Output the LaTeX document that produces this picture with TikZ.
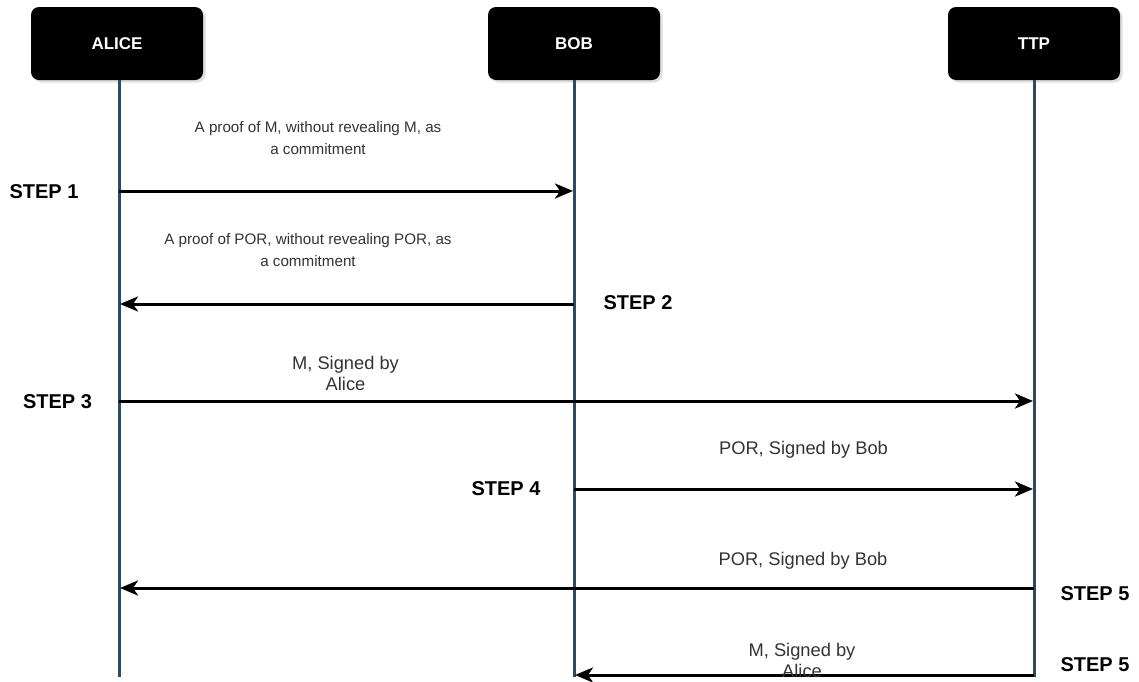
\documentclass[tikz,border=0pt]{standalone}
\usepackage{fontspec}
\setmainfont{Liberation Sans}
\usetikzlibrary{arrows.meta,shadows}
\definecolor{lifeline}{HTML}{2B4A63}
\definecolor{msgtext}{HTML}{333333}
\begin{document}
\begin{tikzpicture}[x=1pt,y=-1pt,
  actor/.style={fill=black,rounded corners=8pt,minimum width=172pt,minimum height=73pt,
    text=white,font=\fontsize{17}{20}\selectfont\bfseries,
    drop shadow={shadow xshift=2.5pt,shadow yshift=-2.5pt,opacity=0.25}},
  life/.style={draw=lifeline,line width=3pt},
  msg/.style={draw=black,line width=3pt,
    -{Stealth[length=18pt,width=15pt,inset=5pt]}},
  msglabel/.style={text=msgtext,align=center,inner sep=0pt},
  small/.style={msglabel,font=\fontsize{15.2}{22}\selectfont},
  large/.style={msglabel,font=\fontsize{18.3}{21}\selectfont},
  steplabel/.style={font=\fontsize{20}{24}\selectfont\bfseries,inner sep=0pt}]
\useasboundingbox (0,0) rectangle (1139,681);
% participants
\node[actor] (alice) at (117,43.5) {ALICE};
\node[actor] (bob) at (574,43.5) {BOB};
\node[actor] (ttp) at (1034,43.5) {TTP};
% lifelines
\coordinate (astart) at (119,80);
\coordinate (aend) at (119,677);
\coordinate (bend) at (574,677);
\coordinate (tend) at (1034,677);
\draw[life] (astart) -- (aend);
\draw[life] (bob.south) -- (bend);
\draw[life] (ttp.south) -- (tend);
% message end points on the lifelines
\coordinate (a1) at (119,191); \coordinate (b1) at (573,191);
\coordinate (b2) at (574,304); \coordinate (a2) at (120,304);
\coordinate (a3) at (119,401); \coordinate (t3) at (1033,401);
\coordinate (b4) at (574,489); \coordinate (t4) at (1033,489);
\coordinate (t5) at (1034,588); \coordinate (a5) at (120,588);
\coordinate (t6) at (1034,675); \coordinate (b6) at (575,675);
% messages
\draw[msg] (a1) -- (b1);
\draw[msg] (b2) -- (a2);
\draw[msg] (a3) -- (t3);
\draw[msg] (b4) -- (t4);
\draw[msg] (t5) -- (a5);
\draw[msg] (t6) -- (b6);
% message labels
\node[small] (m1) at (318,138) {A proof of M, without revealing M, as\\a commitment};
\node[small] (m2) at (308,250) {A proof of POR, without revealing POR, as\\a commitment};
\node[large] (m3) at (345.5,373) {M, Signed by\\Alice};
\node[large] (m4) at (803.5,450) {POR, Signed by Bob};
\node[large] (m5) at (803,561) {POR, Signed by Bob};
\node[large] (m6) at (802,660) {M, Signed by\\Alice};
% step labels
\node[steplabel] (s1) at (44,192) {STEP 1};
\node[steplabel] (s2) at (638,302.5) {STEP 2};
\node[steplabel] (s3) at (57.5,401.5) {STEP 3};
\node[steplabel] (s4) at (506,489) {STEP 4};
\node[steplabel] (s5) at (1095,593.5) {STEP 5};
\node[steplabel] (s6) at (1095,665) {STEP 5};
\end{tikzpicture}
\end{document}
